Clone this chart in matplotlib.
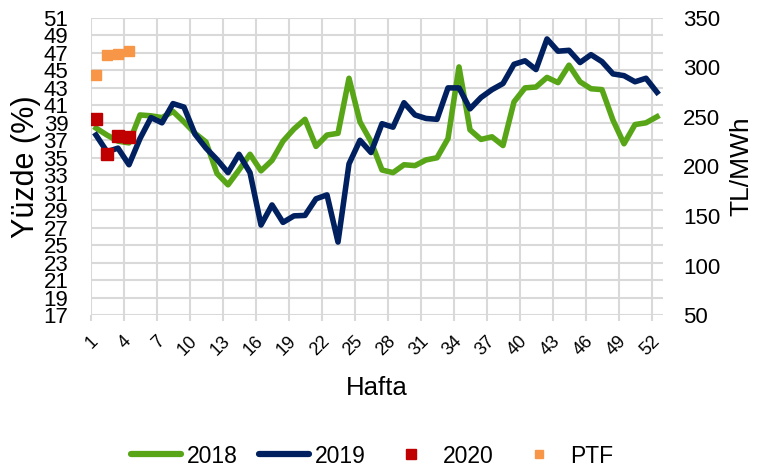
import matplotlib
matplotlib.use("Agg")
import matplotlib.pyplot as plt
import numpy as np
from matplotlib.lines import Line2D

plt.rcParams['font.family'] = ['Liberation Sans', 'DejaVu Sans']

weeks = list(range(1, 53))
y2018 = [38.4, 37.6, 36.9, 36.7, 39.9, 39.8, 39.6, 40.3, 39.1, 37.8,
         36.8, 33.2, 31.9, 33.6, 35.4, 33.5, 34.7, 36.9, 38.3, 39.4,
         36.3, 37.6, 37.8, 44.1, 39.1, 36.85, 33.6, 33.3, 34.2, 34.1,
         34.75, 35.0, 37.2, 45.4, 38.2, 37.1, 37.4, 36.4, 41.4, 43.0,
         43.1, 44.2, 43.6, 45.6, 43.7, 42.9, 42.8, 39.3, 36.6, 38.8, 39.0, 39.7]
y2019 = [37.6, 35.7, 36.1, 34.2, 37.2, 39.6, 39.0, 41.2, 40.8, 37.7,
         36.1, 34.8, 33.3, 35.4, 33.3, 27.3, 29.6, 27.6, 28.35, 28.4,
         30.3, 30.75, 25.35, 34.3, 37.0, 35.6, 38.9, 38.5, 41.3, 39.9,
         39.5, 39.4, 43.0, 43.0, 40.6, 41.9, 42.8, 43.5, 45.7, 46.1,
         45.1, 48.6, 47.2, 47.3, 45.9, 46.8, 46.0, 44.6, 44.4, 43.7, 44.1, 42.5]
weeks2020 = [1, 2, 3, 4]
y2020 = [39.4, 35.4, 37.5, 37.4]
ptf2020 = [292, 313, 314, 317]

xtick_labels = [str(w) for w in range(1, 53, 3)]

c2018 = '#58A618'
c2019 = '#002060'
c2020 = '#C00000'
cptf = '#F79646'
gridc = '#D9D9D9'

W, H = 765, 473
fig = plt.figure(figsize=(W/100, H/100), dpi=100)
L, R, T, B = 90.5, 662.5, 18, 315
ax = fig.add_axes([L/W, 1-B/H, (R-L)/W, (B-T)/H])
ax2 = ax.twinx()

ax.set_xlim(0.5, 52.5)
ax.set_ylim(17, 51)
ax2.set_ylim(50, 350)

ax.set_yticks(np.arange(17, 52, 2))
ax2.set_yticks(np.arange(50, 351, 50))
ax.set_xticks([int(s) for s in xtick_labels])
ax.set_xticklabels(xtick_labels)
ax.set_xticks(np.arange(0.5, 52, 3), minor=True)

ax.grid(True, axis='y', which='major', color=gridc, lw=1.5)
ax.grid(True, axis='x', which='minor', color=gridc, lw=1.5)
ax.set_axisbelow(True)
for a in (ax, ax2):
    for s in a.spines.values():
        s.set_visible(False)

ax.tick_params(axis='x', which='major', length=0, labelsize=13, pad=17)
ax.tick_params(axis='x', which='minor', length=4.5, width=1.5, color=gridc)
ax.tick_params(axis='y', length=0, labelsize=16, pad=16)
ax2.tick_params(axis='y', length=0, labelsize=16, pad=15)
plt.setp(ax.get_xticklabels(), rotation=45, ha='right', va='center', rotation_mode='anchor')

ax.plot(weeks, y2018, color=c2018, lw=4, solid_joinstyle='round', zorder=3)
ax.plot(weeks, y2019, color=c2019, lw=4, solid_joinstyle='round', zorder=4)
ax.plot(weeks2020, y2020, ls='none', marker='s', ms=8, color=c2020, zorder=5)
ax2.plot(weeks2020, ptf2020, ls='none', marker='s', ms=6.5, color=cptf, zorder=5)

ax.set_ylabel('Yüzde (%)', fontsize=22, labelpad=2)
ax2.set_ylabel('TL/MWh', fontsize=19, labelpad=6)
ax.set_xlabel('Hafta', fontsize=18.5, labelpad=12)

handles = [Line2D([], [], color=c2018, lw=4.5, solid_capstyle='round'),
           Line2D([], [], color=c2019, lw=4.5, solid_capstyle='round'),
           Line2D([], [], ls='none', marker='s', ms=7, color=c2020),
           Line2D([], [], ls='none', marker='s', ms=6, color=cptf)]
fig.legend(handles, ['2018', '2019', '2020', 'PTF'], loc='center',
           bbox_to_anchor=(372/W, 1-456/H), ncol=4, frameon=False,
           fontsize=16.5, handlelength=2.2, handletextpad=0.25, columnspacing=0.9)

fig.savefig('out.png', dpi=100)
